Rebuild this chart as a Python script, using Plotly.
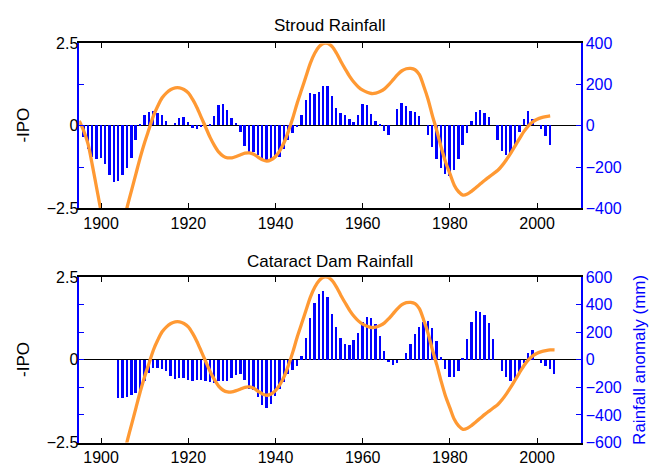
import plotly.graph_objects as go

# ---------------- data ----------------
ipo_years = list(range(1895, 2005))
ipo_neg = [0.15, -0.15, -0.55, -1.2, -1.9, -2.6, -3.2, -3.6, -3.7, -3.5,
           -3.0, -2.45, -1.95, -1.45, -0.95, -0.5, -0.1, 0.3, 0.6, 0.85,
           1.0, 1.1, 1.15, 1.15, 1.1, 1.0, 0.8, 0.55, 0.25, -0.05,
           -0.35, -0.6, -0.8, -0.92, -0.97, -0.97, -0.93, -0.88, -0.83, -0.82,
           -0.86, -0.95, -1.03, -1.07, -1.03, -0.93, -0.75, -0.5, -0.15, 0.25,
           0.7, 1.1, 1.5, 1.9, 2.2, 2.4, 2.5, 2.5, 2.4, 2.2,
           1.95, 1.72, 1.5, 1.32, 1.18, 1.08, 1.02, 0.98, 0.99, 1.04,
           1.12, 1.25, 1.4, 1.55, 1.67, 1.73, 1.74, 1.7, 1.55, 1.2,
           0.8, 0.3, -0.15, -0.65, -1.1, -1.45, -1.8, -2.0, -2.1, -2.07,
           -1.98, -1.87, -1.76, -1.65, -1.55, -1.45, -1.35, -1.2, -1.02, -0.82,
           -0.6, -0.38, -0.17, 0.0, 0.12, 0.2, 0.25, 0.28, 0.3, 0.3]

stroud_start = 1896
stroud_rain = [-58, -112, -151, -162, -159, -186, -240, -276, -268, -240,
               -206, -159, -73, 8, 51, 67, 69, 62, 51, 20,
               0, 12, 36, 39, 16, -11, -16, -8, 0, 9,
               48, 101, 106, 75, 36, 12, -34, -101, -128, -128,
               -143, -159, -172, -172, -156, -151, -112, -69, -37, -8,
               51, 122, 156, 153, 164, 190, 190, 145,
               83, 59, 51, 31, 16, 51, 106, 101, 55, 20,
               8, -27, -45, 0, 78, 111, 95, 72, 67, 44,
               0, -47, -105, -162, -206, -234, -245, -218, -162, -97,
               -37, 20, 67, 75, 62, 39, 0, -70, -123, -143,
               -140, -97, -34, 31, 72, 31, 0, -19, -50, -94]
stroud_years = list(range(stroud_start, stroud_start + len(stroud_rain)))

cataract_start = 1904
cataract_rain = [-280, -278, -269, -257, -245, -217, -157, -100, -63, -58,
                 -65, -82, -117, -140, -136, -136, -145, -152, -147, -147,
                 -157, -164, -168, -157, -157, -152, -136, -112, -105, -147,
                 -210, -222, -269, -327, -350, -320, -264, -210, -164, -105,
                 -77, -47, 25, 160, 300, 410, 480, 495, 458, 330,
                 236, 158, 110, 108, 142, 196, 270, 312, 305, 260,
                 172, 60, -19, -42, -26, 0, 47, 117, 187, 234,
                 273, 280, 229, 133, 19, -70, -124, -128, -82, 7,
                 147, 276, 350, 346, 327, 269, 147, 0, -82, -124,
                 -152, -152, -100, -28, 47, 70, 0, -28, -47, -70, -105]
cataract_years = list(range(cataract_start, cataract_start + len(cataract_rain)))

top_ipo_span = (1895, 2003)
bot_ipo_span = (1902, 2004)

x_ticks = [1900, 1920, 1940, 1960, 1980, 2000]
ipo_ticks = [-2.5, 0, 2.5]
stroud_ticks = [-400, -200, 0, 200, 400]
cataract_ticks = [-600, -400, -200, 0, 200, 400, 600]

# ---------------- styling ----------------
FONT = "Liberation Sans, Arial, Helvetica, sans-serif"
BLUE = "#0000FF"
ORANGE = "#FF9933"
W, H = 657, 473
xdom = [79.3 / W, 580.7 / W]
top_dom = [(H - 207.7) / H, (H - 36.7) / H]
bot_dom = [(H - 450.7) / H, (H - 279.3) / H]


def sel(years, vals, span):
    pts = [(y, v) for y, v in zip(years, vals) if span[0] <= y <= span[1]]
    return [p[0] for p in pts], [p[1] for p in pts]


fig = go.Figure()

# top panel
fig.add_trace(go.Bar(x=stroud_years, y=stroud_rain, width=0.55,
                     marker=dict(color=BLUE, line=dict(width=0)),
                     xaxis="x", yaxis="y", showlegend=False))
tx, ty = sel(ipo_years, ipo_neg, top_ipo_span)
fig.add_trace(go.Scatter(x=tx, y=ty, mode="lines", line=dict(color=ORANGE, width=3.3, shape="spline", smoothing=0.8),
                         xaxis="x", yaxis="y2", showlegend=False))

# bottom panel
fig.add_trace(go.Bar(x=cataract_years, y=cataract_rain, width=0.55,
                     marker=dict(color=BLUE, line=dict(width=0)),
                     xaxis="x2", yaxis="y3", showlegend=False))
bx, by = sel(ipo_years, ipo_neg, bot_ipo_span)
fig.add_trace(go.Scatter(x=bx, y=by, mode="lines", line=dict(color=ORANGE, width=3.3, shape="spline", smoothing=0.8),
                         xaxis="x2", yaxis="y4", showlegend=False))

xcommon = dict(range=[1895, 2010], tickvals=x_ticks, ticks="inside", ticklen=5, tickwidth=1,
               tickcolor="black", showline=True, linecolor="black", linewidth=1.5, mirror="ticks",
               showgrid=False, zeroline=False, tickfont=dict(family=FONT, size=16, color="black"))
raincommon = dict(side="right", ticks="inside", ticklen=5, tickwidth=1, tickcolor=BLUE,
                  showline=True, linecolor=BLUE, linewidth=1.5, mirror="ticks", showgrid=False,
                  zeroline=True, zerolinecolor="black", zerolinewidth=1,
                  tickfont=dict(family=FONT, size=16, color=BLUE))
ipocommon = dict(side="left", range=[-2.5, 2.5], tickvals=ipo_ticks, ticks="", showline=False,
                 showgrid=False, zeroline=False, tickfont=dict(family=FONT, size=16, color="black"))

fig.update_layout(
    width=W, height=H, margin=dict(l=0, r=0, t=0, b=0), autosize=False,
    paper_bgcolor="white", plot_bgcolor="white", bargap=0,
    xaxis=dict(domain=xdom, anchor="y", **xcommon),
    yaxis=dict(domain=top_dom, anchor="x", range=[-400, 400], tickvals=stroud_ticks, **raincommon),
    yaxis2=dict(overlaying="y", anchor="x", **ipocommon),
    xaxis2=dict(domain=xdom, anchor="y3", **xcommon),
    yaxis3=dict(domain=bot_dom, anchor="x2", range=[-600, 600], tickvals=cataract_ticks, **raincommon),
    yaxis4=dict(overlaying="y3", anchor="x2", **ipocommon),
    annotations=[
        dict(text="Stroud Rainfall", x=330 / W, y=(H - 18) / H, xref="paper", yref="paper",
             showarrow=False, xanchor="center", yanchor="middle", font=dict(family=FONT, size=17, color="black")),
        dict(text="Cataract Dam Rainfall", x=330 / W, y=(H - 262.5) / H, xref="paper", yref="paper",
             showarrow=False, xanchor="center", yanchor="middle", font=dict(family=FONT, size=17, color="black")),
        dict(text="-IPO", x=24 / W, y=(H - 122) / H, xref="paper", yref="paper", textangle=-90,
             showarrow=False, xanchor="center", yanchor="middle", font=dict(family=FONT, size=17, color="black")),
        dict(text="-IPO", x=24 / W, y=(H - 365) / H, xref="paper", yref="paper", textangle=-90,
             showarrow=False, xanchor="center", yanchor="middle", font=dict(family=FONT, size=17, color="black")),
        dict(text="Rainfall anomaly (mm)", x=640 / W, y=(H - 365) / H, xref="paper", yref="paper", textangle=-90,
             showarrow=False, xanchor="center", yanchor="middle", font=dict(family=FONT, size=17, color=BLUE)),
    ],
)

fig.write_html("out.html")
